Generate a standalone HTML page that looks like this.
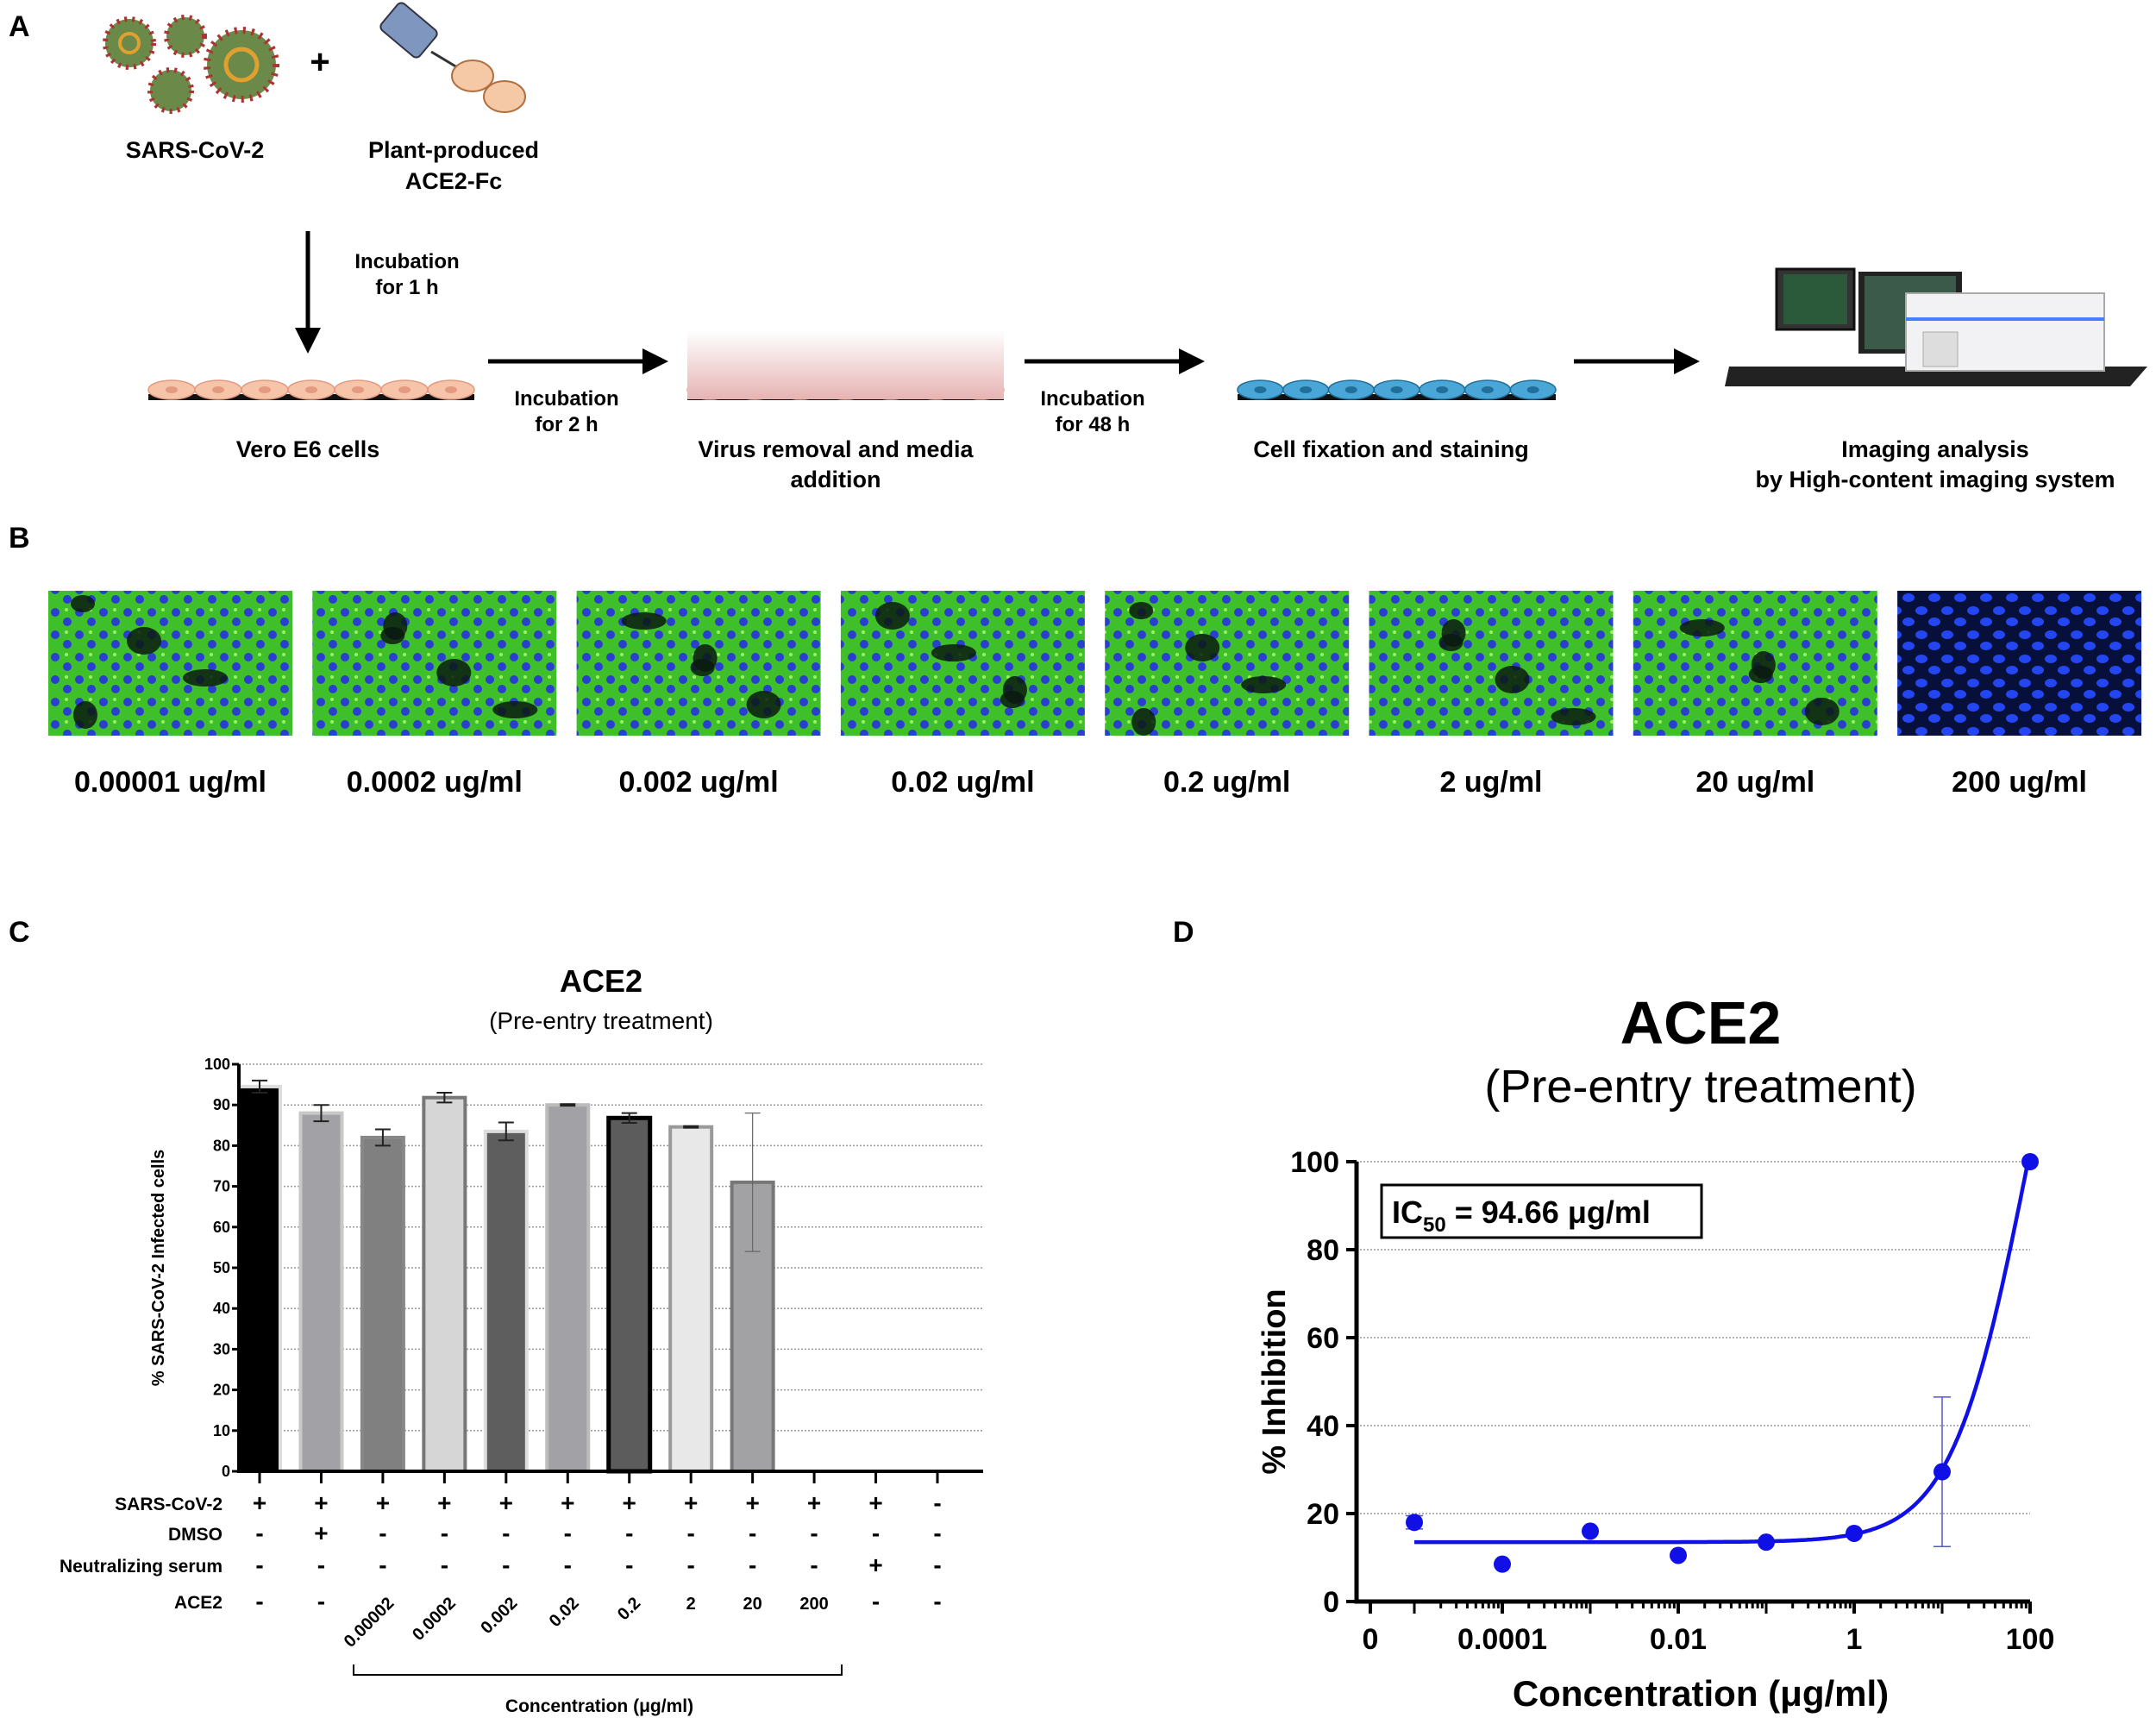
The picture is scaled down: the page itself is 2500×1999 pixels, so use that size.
<!DOCTYPE html>
<html><head><meta charset="utf-8">
<style>
html,body{margin:0;padding:0;background:#fff;}
svg{display:block;font-family:"Liberation Sans",Arial,sans-serif;}
.b{font-weight:bold;}
</style></head>
<body>
<svg id="fig" width="2500" height="1999" viewBox="0 0 2500 1999" xmlns="http://www.w3.org/2000/svg">
<defs>
  <pattern id="cellsG" width="28" height="26" patternUnits="userSpaceOnUse">
    <rect width="28" height="26" fill="#3fbf2a"/>
    <circle cx="8" cy="8" r="5" fill="#2a3fd0"/>
    <circle cx="22" cy="19" r="5" fill="#2a3fd0"/>
    <circle cx="21" cy="5" r="2" fill="#9cf060"/>
  </pattern>
  <pattern id="cellsB" width="30" height="28" patternUnits="userSpaceOnUse">
    <rect width="30" height="28" fill="#06103a"/>
    <ellipse cx="8" cy="8" rx="7" ry="5" fill="#2346f0"/>
    <ellipse cx="23" cy="21" rx="7" ry="5" fill="#2346f0"/>
  </pattern>
  <linearGradient id="pink" x1="0" y1="0" x2="0" y2="1">
    <stop offset="0" stop-color="#fff"/><stop offset="1" stop-color="#e7b3b3"/>
  </linearGradient>
  <marker id="ah" markerWidth="6" markerHeight="6" refX="3" refY="3" orient="auto"><path d="M0,0 L6,3 L0,6 z" fill="#000"/></marker>
</defs>

<!-- Panel labels -->
<text x="10" y="42" font-size="34" class="b">A</text>
<text x="10" y="635" font-size="34" class="b">B</text>
<text x="10" y="1092" font-size="34" class="b">C</text>
<text x="1360" y="1092" font-size="34" class="b">D</text>

<!-- Panel A -->
<g>
  <g>
    <circle cx="150" cy="50" r="28" fill="#6b8a4a" stroke="#a33" stroke-width="6" stroke-dasharray="3 6"/>
    <circle cx="215" cy="42" r="22" fill="#6b8a4a" stroke="#a33" stroke-width="6" stroke-dasharray="3 6"/>
    <circle cx="198" cy="105" r="24" fill="#6b8a4a" stroke="#a33" stroke-width="6" stroke-dasharray="3 6"/>
    <circle cx="280" cy="75" r="40" fill="#6b8a4a" stroke="#a33" stroke-width="8" stroke-dasharray="3 7"/>
    <circle cx="280" cy="75" r="18" fill="none" stroke="#e0a030" stroke-width="5"/>
    <circle cx="150" cy="50" r="11" fill="none" stroke="#e0a030" stroke-width="4"/>
  </g>
  <text x="371" y="85" font-size="40" class="b" text-anchor="middle">+</text>
  <g>
    <rect x="445" y="15" width="58" height="40" rx="6" fill="#7f97bf" stroke="#334" stroke-width="2" transform="rotate(40 474 35)"/>
    <line x1="500" y1="60" x2="530" y2="78" stroke="#333" stroke-width="3"/>
    <ellipse cx="548" cy="88" rx="24" ry="18" fill="#f6c9a6" stroke="#b07040" stroke-width="2"/>
    <ellipse cx="585" cy="112" rx="24" ry="18" fill="#f6c9a6" stroke="#b07040" stroke-width="2"/>
  </g>
  <g font-size="27" class="b" text-anchor="middle">
    <text x="226" y="183">SARS-CoV-2</text>
    <text x="526" y="183">Plant-produced</text>
    <text x="526" y="219">ACE2-Fc</text>
    <text x="472" y="311" font-size="24">Incubation</text>
    <text x="472" y="341" font-size="24">for 1 h</text>
    <text x="657" y="470" font-size="24">Incubation</text>
    <text x="657" y="500" font-size="24">for 2 h</text>
    <text x="1267" y="470" font-size="24">Incubation</text>
    <text x="1267" y="500" font-size="24">for 48 h</text>
    <text x="357" y="530">Vero E6 cells</text>
    <text x="969" y="530">Virus removal and media</text>
    <text x="969" y="565">addition</text>
    <text x="1613" y="530">Cell fixation and staining</text>
    <text x="2244" y="530">Imaging analysis</text>
    <text x="2244" y="565">by High-content imaging system</text>
  </g>
  <line x1="357" y1="268" x2="357" y2="395" stroke="#000" stroke-width="5" marker-end="url(#ah)"/>
  <line x1="566" y1="419" x2="760" y2="419" stroke="#000" stroke-width="5" marker-end="url(#ah)"/>
  <line x1="1188" y1="419" x2="1382" y2="419" stroke="#000" stroke-width="5" marker-end="url(#ah)"/>
  <line x1="1825" y1="419" x2="1956" y2="419" stroke="#000" stroke-width="5" marker-end="url(#ah)"/>
  <g id="layers"></g>
  <rect x="797" y="383" width="367" height="80" fill="url(#pink)"/>
  <g>
    <polygon points="2005,425 2490,425 2470,448 2000,448" fill="#222"/>
    <rect x="2060" y="312" width="90" height="70" fill="#333" stroke="#111" stroke-width="3"/>
    <rect x="2068" y="318" width="74" height="58" fill="#2a5a3a"/>
    <rect x="2155" y="315" width="120" height="95" fill="#222"/>
    <rect x="2162" y="320" width="106" height="85" fill="#3c5a4a"/>
    <rect x="2210" y="405" width="12" height="20" fill="#333"/>
    <rect x="2210" y="340" width="230" height="90" fill="#f2f2f4" stroke="#aaa" stroke-width="2"/>
    <rect x="2210" y="368" width="230" height="4" fill="#4a7cff"/>
    <rect x="2230" y="385" width="40" height="40" fill="#ddd" stroke="#aaa"/>
  </g>
</g>

<!-- Panel B -->
<g id="panelB"></g>

<!-- Panel C -->
<g id="panelC">
  <text x="697" y="1150" font-size="36" class="b" text-anchor="middle">ACE2</text>
  <text x="697" y="1193" font-size="28" text-anchor="middle">(Pre-entry treatment)</text>
  <text transform="translate(190 1470) rotate(-90)" font-size="20" class="b" text-anchor="middle">% SARS-CoV-2 Infected cells</text>
  <path d="M410,1930 L410,1942 L976,1942 L976,1930" fill="none" stroke="#000" stroke-width="2"/>
  <text x="695" y="1985" font-size="21" class="b" text-anchor="middle">Concentration (μg/ml)</text>
</g>

<!-- Panel D -->
<g id="panelD">
  <text x="1972" y="1210" font-size="70" class="b" text-anchor="middle">ACE2</text>
  <text x="1972" y="1278" font-size="54" text-anchor="middle">(Pre-entry treatment)</text>
  <text transform="translate(1490 1602) rotate(-90)" font-size="38" class="b" text-anchor="middle">% Inhibition</text>
  <text x="1972" y="1978" font-size="42" class="b" text-anchor="middle">Concentration (μg/ml)</text>
</g>
</svg>

<script>
// ---------- Panel C data ----------
const cCategories = ['SARS-CoV-2','DMSO','0.00002','0.0002','0.002','0.02','0.2','2','20','200','Neutralizing serum','Mock'];
const cValues = [94.5, 88, 82, 91.8, 83.5, 90, 86.8, 84.6, 71, 0, 0, 0];
const cErrors = [1.5, 2, 2, 1.2, 2.2, 0.2, 1.2, 0.2, 17, 0, 0, 0];
const cYTicks = [0,10,20,30,40,50,60,70,80,90,100];
const rowSars = ['+','+','+','+','+','+','+','+','+','+','+','-'];
const rowDmso = ['-','+','-','-','-','-','-','-','-','-','-','-'];
const rowSerum = ['-','-','-','-','-','-','-','-','-','-','+','-'];
const rowAce2 = ['-','-','0.00002','0.0002','0.002','0.02','0.2','2','20','200','-','-'];
const rowNames = ['SARS-CoV-2','DMSO','Neutralizing serum','ACE2'];

// ---------- Panel D data ----------
const dLogConc = [-5, -4, -3, -2, -1, 0, 1, 2];
const dValues = [18, 8.5, 16, 10.5, 13.5, 15.5, 29.5, 100];
const dErrors = [1.5, 0, 0, 0, 0, 0, 17, 0];
const dYTicks = [0,20,40,60,80,100];
const dXTickLabels = ['0','0.0001','0.01','1','100'];
const dXTickLogs = [-5.5,-4,-2,0,2];
const fitBottom = 13.5, fitTop = 186.5, fitLogIC50 = 1.976, fitHill = 1.0;

// ---------- Panel B data ----------
const bLabels = ['0.00001 ug/ml','0.0002 ug/ml','0.002 ug/ml','0.02 ug/ml','0.2 ug/ml','2 ug/ml','20 ug/ml','200 ug/ml'];

const NS='http://www.w3.org/2000/svg';
function mk(tag, attrs, parent){const e=document.createElementNS(NS,tag);for(const k in attrs)e.setAttribute(k,attrs[k]);parent.appendChild(e);return e;}

// Panel A cell layers
(function(){
  const g=document.getElementById('layers');
  const layers=[[172,550,'#f6c4a8','#e39a80'],[797,1164,'#f6c4a8','#e39a80'],[1435,1804,'#4aa6d6','#1f6f9a']];
  layers.forEach((L,li)=>{
    const r=mk('rect',{x:L[0],y:457,width:L[1]-L[0],height:7,fill:'#111'},g);
    
    
    const n=7, w=(L[1]-L[0])/n;
    for(let i=0;i<n;i++){
      const cx=L[0]+w*(i+0.5);
      const e=mk('ellipse',{cx:cx,cy:452,rx:w/2,ry:11,fill:L[2],stroke:L[3],'stroke-width':1.5},g);
      
      
      mk('ellipse',{cx:cx,cy:452,rx:7,ry:4,fill:L[3]},g);
    }
  });
})();

// Panel B tiles
(function(){
  const g=document.getElementById('panelB');
  const xs0=56, step=306.3;
  bLabels.forEach((lab,i)=>{
    const x=xs0+i*step;
    const r=mk('rect',{x:x,y:685,width:283,height:168,fill:i===7?'url(#cellsB)':'url(#cellsG)'},g);
    
    
    if(i<7){
      for(let k=0;k<4;k++){
        mk('ellipse',{cx:x+40+((i*53+k*71)%210),cy:700+((i*37+k*43)%140),rx:14+(k%3)*6,ry:10+(k%2)*6,fill:'#0a1a10',opacity:0.85},g);
      }
    }
    const t=mk('text',{x:x+141.5,y:918,'font-size':34,'font-weight':'bold','text-anchor':'middle'},g);
    t.textContent=lab;
    
    
  });
})();

// Panel C chart
(function(){
  const g=document.getElementById('panelC');
  const x0=277, x1=1140, yTop=1234, yBot=1706;
  const y=v=>yBot-(v/100)*(yBot-yTop);
  const centers=[301,373,446,518,590,662,733,805,877,949,1009,1087];
  const xb=i=>x0+24+i*((1087-301)/11);
  const fills=['#000','#a2a2a6','#808080','#d6d6d6','#5e5e5e','#a2a2a6','#5c5c5c','#e8e8e8','#a2a2a4'];
  const strokes=['#ddd','#c8c8c8','#888','#777','#ddd','#bbb','#000','#999','#777'];
  cYTicks.forEach(t=>{
    if(t>0){const gl=mk('line',{x1:x0,x2:x1,y1:y(t),y2:y(t),stroke:'#999','stroke-width':1.5,'stroke-dasharray':'2 2'},g);
    
    }
    mk('line',{x1:x0-8,x2:x0,y1:y(t),y2:y(t),stroke:'#000','stroke-width':3},g);
    const tl=mk('text',{x:x0-10,y:y(t)+6,'font-size':18,'font-weight':'bold','text-anchor':'end'},g);
    tl.textContent=t;
    
    
  });
  cValues.forEach((v,i)=>{
    const cx=xb(i), bw=48;
    if(v>0){
      const b=mk('rect',{x:cx-bw/2,y:y(v),width:bw,height:yBot-y(v),fill:fills[i],stroke:strokes[i],'stroke-width':i===6?5:4},g);
      
      
      const e=cErrors[i];
      if(e>0){
        const eb=mk('path',{d:`M${cx-9},${y(v+e)} L${cx+9},${y(v+e)} M${cx},${y(v+e)} L${cx},${y(v-e)} M${cx-9},${y(v-e)} L${cx+9},${y(v-e)}`,stroke:i===8?'#666':'#222','stroke-width':i===8?1.2:2,fill:'none'},g);
        
        
      }
    }
    mk('line',{x1:cx,x2:cx,y1:yBot,y2:yBot+14,stroke:'#000','stroke-width':3},g);
    const rows=[rowSars,rowDmso,rowSerum,rowAce2], ry=[1752,1787,1824,1866];
    rows.forEach((row,ri)=>{
      const s=row[i];
      let t;
      if(ri===3 && i>=2 && i<=6){
        t=mk('text',{x:cx+14,y:ry[ri]-6,'font-size':20,'font-weight':'bold','text-anchor':'end',transform:`rotate(-45 ${cx+14} ${ry[ri]-6})`},g);
      } else {
        t=mk('text',{x:cx,y:ry[ri],'font-size':(s==='+'||s==='-')?28:20,'font-weight':'bold','text-anchor':'middle'},g);
      }
      t.textContent=s;
      
      
    });
  });
  rowNames.forEach((n,ri)=>{
    const t=mk('text',{x:258,y:[1751,1786,1823,1865][ri],'font-size':21,'font-weight':'bold','text-anchor':'end'},g);
    t.textContent=n;
    
    
  });
  const ax=mk('path',{d:`M${x0},${yTop} L${x0},${yBot} L${x1},${yBot}`,stroke:'#000','stroke-width':4,fill:'none'},g);
  
  
})();

// Panel D chart
(function(){
  const g=document.getElementById('panelD');
  const x0=1573, x1=2354, yTop=1347, yBot=1857;
  const X=l=>x1-(2-l)*102;
  const Y=v=>yBot-(v/100)*(yBot-yTop);
  dYTicks.forEach(t=>{
    if(t>0){const gl=mk('line',{x1:x0,x2:x1,y1:Y(t),y2:Y(t),stroke:'#999','stroke-width':1.5,'stroke-dasharray':'2 2'},g);
    
    }
    mk('line',{x1:x0-12,x2:x0,y1:Y(t),y2:Y(t),stroke:'#000','stroke-width':4},g);
    const tl=mk('text',{x:x0-20,y:Y(t)+12,'font-size':34,'font-weight':'bold','text-anchor':'end'},g);
    tl.textContent=t;
    
    
  });
  // minor ticks
  for(let d=-5; d<2; d++){ for(let m=1;m<10;m++){ const l=d+Math.log10(m); mk('line',{x1:X(l),x2:X(l),y1:yBot,y2:yBot+(m===1?14:8),stroke:'#000','stroke-width':3},g);} }
  mk('line',{x1:X(2),x2:X(2),y1:yBot,y2:yBot+14,stroke:'#000','stroke-width':3},g);
  dXTickLabels.forEach((lab,i)=>{
    const l=dXTickLogs[i];
    mk('line',{x1:X(l),x2:X(l),y1:yBot,y2:yBot+14,stroke:'#000','stroke-width':4},g);
    const t=mk('text',{x:X(l),y:1912,'font-size':34,'font-weight':'bold','text-anchor':'middle'},g);
    t.textContent=lab;
    
    
  });
  // fit curve
  let d='';
  for(let l=dLogConc[0]; l<=dLogConc[dLogConc.length-1]+1e-9; l+=0.02){
    const v=fitBottom+(fitTop-fitBottom)/(1+Math.pow(10,(fitLogIC50-l)*fitHill));
    d+=(d?'L':'M')+X(l).toFixed(1)+','+Y(Math.min(v,100)).toFixed(1);
  }
  const c=mk('path',{d:d,stroke:'#1010e6','stroke-width':4.5,fill:'none'},g);
  
  
  dValues.forEach((v,i)=>{
    const cx=X(dLogConc[i]), e=dErrors[i];
    if(e>0){
      const eb=mk('path',{d:`M${cx-10},${Y(v+e)} L${cx+10},${Y(v+e)} M${cx},${Y(v+e)} L${cx},${Y(v-e)} M${cx-10},${Y(v-e)} L${cx+10},${Y(v-e)}`,stroke:'#5555cc','stroke-width':1.5,fill:'none'},g);
      
      
    }
    const p=mk('circle',{cx:cx,cy:Y(v),r:10,fill:'#1010e6'},g);
    
    
  });
  const ax=mk('path',{d:`M${x0},${yTop} L${x0},${yBot} L${x1},${yBot}`,stroke:'#000','stroke-width':5,fill:'none'},g);
  
  
  const box=mk('rect',{x:1602,y:1374,width:371,height:61,fill:'#fff',stroke:'#000','stroke-width':3},g);
  
  
  const t=mk('text',{x:1614,y:1418,'font-size':36,'font-weight':'bold'},g);
  t.innerHTML='IC<tspan font-size="24" dy="10">50</tspan><tspan dy="-10"> = 94.66 μg/ml</tspan>';
  
  
})();
</script>
</body></html>
